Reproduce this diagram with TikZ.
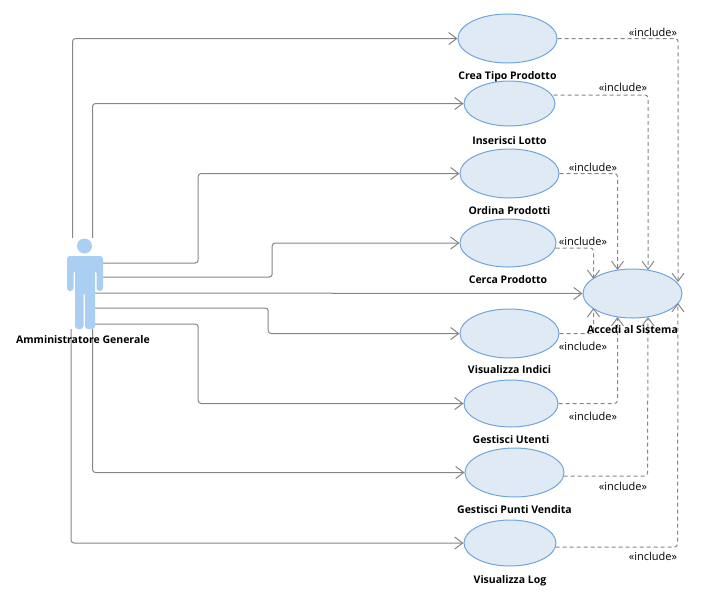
\documentclass[tikz,border=0pt]{standalone}
\usepackage{xcolor}
\usepackage{fontspec}
\setmainfont{Open Sans}
\definecolor{casefill}{HTML}{E0EAF5}
\definecolor{caseline}{HTML}{6FA5DC}
\definecolor{actorblue}{HTML}{AACFF3}
\definecolor{wire}{HTML}{868686}
\usetikzlibrary{positioning,arrows.meta,shapes.geometric}
\tikzset{
  usecase/.style={draw=caseline, fill=casefill, ellipse, inner sep=0pt, line width=1pt},
  casename/.style={font=\fontsize{10.5}{12}\selectfont\bfseries, inner sep=0pt, text height=7pt, text depth=2pt},
  stereo/.style={font=\fontsize{11}{12}\selectfont, inner sep=0pt},
  assoc/.style={-{Straight Barb[length=8pt,width=12pt]}, wire, line width=1pt, rounded corners=3pt},
  incl/.style={assoc, dash pattern=on 4pt off 3pt},
}

\begin{document}
\begin{tikzpicture}[x=1pt, y=-1pt]
  \useasboundingbox (0,0) rectangle (707,606);
  \node[minimum width=36pt, minimum height=91pt, inner sep=0pt] (admin) at (85,283.5) {};
  % use cases
  \node[usecase, minimum width=99pt, minimum height=49pt] (crea) at (507.5,38.5) {};
  \node[usecase, minimum width=91pt, minimum height=45pt] (lotto) at (509.5,103.5) {};
  \node[usecase, minimum width=99pt, minimum height=49pt] (ordina) at (509.5,173.5) {};
  \node[usecase, minimum width=96pt, minimum height=48pt] (cerca) at (508,243) {};
  \node[usecase, minimum width=99pt, minimum height=49pt] (indici) at (509.5,333.5) {};
  \node[usecase, minimum width=94pt, minimum height=47pt] (utenti) at (511,403.5) {};
  \node[usecase, minimum width=99pt, minimum height=49pt] (punti) at (514.5,472.5) {};
  \node[usecase, minimum width=92pt, minimum height=46pt] (logs) at (510,543) {};
  \node[usecase, minimum width=99pt, minimum height=49pt] (accedi) at (632.5,293.5) {};
  % associations
  \draw[assoc] ([xshift=-12.5pt]admin.north) |- (crea.west);
  \draw[assoc] ([xshift=7.5pt]admin.north) |- (lotto.west);
  \draw[assoc] ([yshift=20.5pt]admin.east) -- ++(95,0) |- (ordina.west);
  \draw[assoc] ([yshift=6.5pt]admin.east) -- ++(169,0) |- (cerca.west);
  \draw[assoc] ([xshift=-8pt,yshift=-9.5pt]admin.east) -- (accedi.west);
  \draw[assoc] ([xshift=-8pt,yshift=-24.5pt]admin.east) -- ++(173,0) |- (indici.west);
  \draw[assoc] ([xshift=-8pt,yshift=-40.5pt]admin.east) -- ++(103,0) |- (utenti.west);
  \draw[assoc] ([xshift=7.5pt]admin.south) |- (punti.west);
  \draw[assoc] ([xshift=-14pt]admin.south) |- (logs.west);
  % includes
  \draw[incl] (crea.east) -- ++(120.5,0) -- ([shift={(45.5,-11.5)}]accedi.center);
  \draw[incl] ([shift={(44,-8.5)}]lotto.center) -- ++(94.5,0) -- ([shift={(15.5,-23.5)}]accedi.center);
  \draw[incl] (ordina.east) -- ++(58,0) -- ([shift={(-15,-23.5)}]accedi.center);
  \draw[incl] ([shift={(47.5,5)}]cerca.center) -- ++(38,0) -- ([shift={(-39,-14.5)}]accedi.center);
  \draw[incl] (indici.east) -- ++(34,0) -- ([shift={(-39,14.5)}]accedi.center);
  \draw[incl] (utenti.east) -- ++(59,0) -- ([shift={(-15,23.5)}]accedi.center);
  \draw[incl] ([shift={(49,3.5)}]punti.center) -- ++(84,0) -- ([shift={(15.5,23.5)}]accedi.center);
  \draw[incl] ([shift={(45.5,4)}]logs.center) -- ++(122,0) -- ([shift={(45.5,9.5)}]accedi.center);
  % actor
  \fill[actorblue] (84.5,246) circle[radius=7.5];
  \fill[actorblue, rounded corners=3pt] (67,256) -- (103,256) -- (103,291) -- (96.5,291) -- (96.5,270) -- (95,270) -- (95,329)
    -- (85,329) -- (85,292) -- (83.5,292) -- (83.5,329) -- (75,329) -- (75,270) -- (73.5,270) -- (73.5,291) -- (67,291) -- cycle;
  \node[casename, below=7pt of admin, xshift=-2pt] (adminname) {Amministratore Generale};
  % names
  \node[casename, below=8.5pt of crea] (creaname) {Crea Tipo Prodotto};
  \node[casename, below=10.5pt of lotto] (lottoname) {Inserisci Lotto};
  \node[casename, below=8.5pt of ordina] (ordinaname) {Ordina Prodotti};
  \node[casename, below=8.5pt of cerca] (cercaname) {Cerca Prodotto};
  \node[casename, below=7.5pt of indici] (indiciname) {Visualizza Indici};
  \node[casename, below=8.5pt of utenti] (utentiname) {Gestisci Utenti};
  \node[casename, below=8.5pt of punti] (puntiname) {Gestisci Punti Vendita};
  \node[casename, below=9.5pt of logs] (logsname) {Visualizza Log};
  \node[casename, below=7.5pt of accedi] (accediname) {Accedi al Sistema};
  % stereotypes
  \node[stereo] (s1) at (653,32) {«include»};
  \node[stereo] (s2) at (623,87) {«include»};
  \node[stereo] (s3) at (593,167) {«include»};
  \node[stereo] (s4) at (583,241) {«include»};
  \node[stereo] (s5) at (583,346) {«include»};
  \node[stereo] (s6) at (593,416) {«include»};
  \node[stereo] (s7) at (623,486) {«include»};
  \node[stereo] (s8) at (653,556) {«include»};
\end{tikzpicture}
\end{document}
